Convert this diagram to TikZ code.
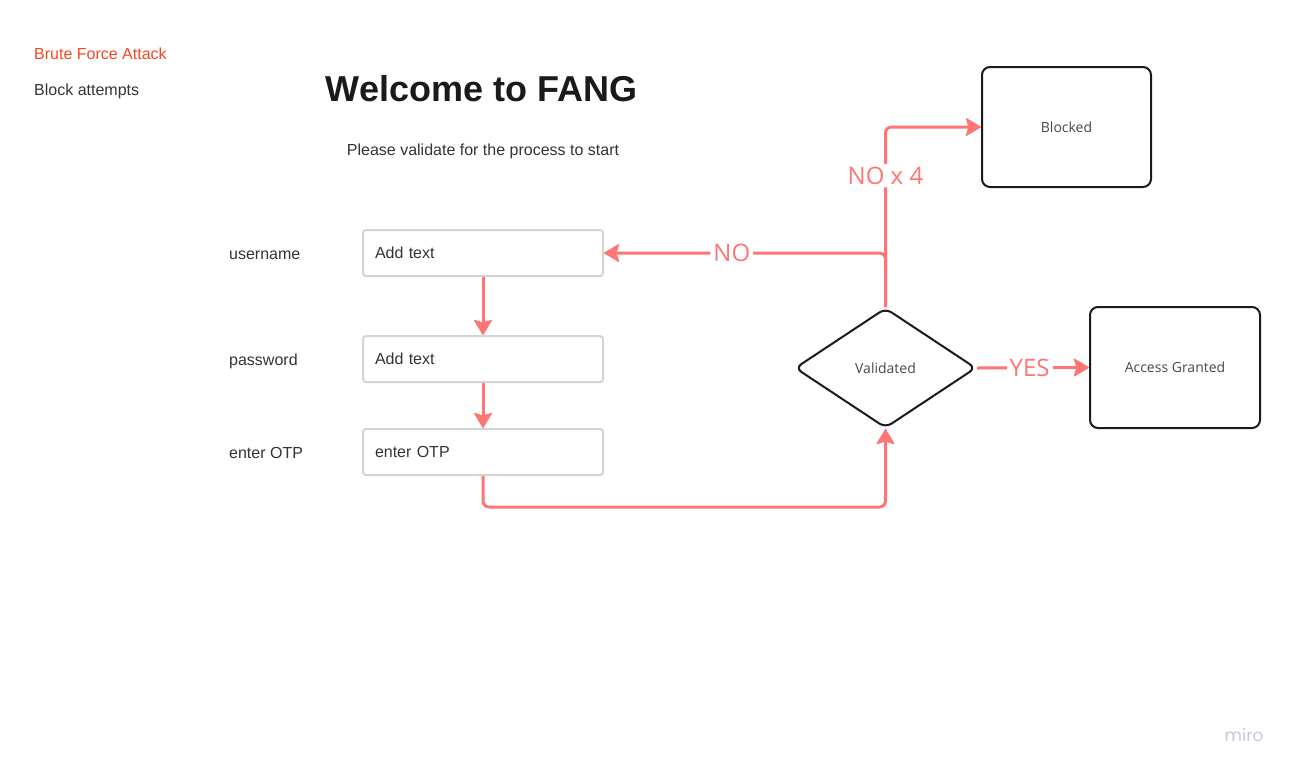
\documentclass[tikz,border=0pt]{standalone}
\usepackage{fontspec}
\setmainfont{Liberation Sans}
\newfontfamily\os{Open Sans}
\newfontfamily\pop{Poppins}
\usetikzlibrary{shapes.geometric,arrows.meta}
\definecolor{conred}{HTML}{FF7575}
\definecolor{orangered}{HTML}{F24726}
\definecolor{txt}{HTML}{333333}
\definecolor{boxgray}{HTML}{D4D4D4}
\definecolor{ink}{HTML}{1A1A1A}
\definecolor{miroc}{HTML}{C5C8DC}
\tikzset{
  x=1pt, y=-1pt,
  lbl/.style={font=\fontsize{16}{19}\selectfont, text=txt, anchor=base west, inner sep=0},
  inbox/.style={draw=boxgray, line width=2pt, rounded corners=3pt, minimum width=240pt, minimum height=46pt,
     inner xsep=12pt, text width=216pt, align=left, font=\fontsize{16}{19}\selectfont, text=txt},
  endbox/.style={draw=ink, line width=2pt, rounded corners=8pt, minimum width=169pt, minimum height=120pt,
     font=\os\fontsize{14}{17}\selectfont, text=txt!90!white},
  conn/.style={draw=conred, line width=3pt, -{Stealth[length=16pt,width=19pt,inset=3pt,line width=1pt,round]}},
  clabel/.style={fill=white, font=\os\fontsize{24}{28}\selectfont, text=conred, inner sep=3pt}
}
\begin{document}
\begin{tikzpicture}
\useasboundingbox (0,0) rectangle (1295,772);
% left notes
\node[lbl, text=orangered] (bf) at (34,59) {Brute Force Attack};
\node[lbl] (ba) at (34,95) {Block attempts};
% title
\node[font=\fontsize{36}{40}\selectfont\bfseries, text=ink, anchor=base, inner sep=0] (title) at (481.5,101) {Welcome to FANG};
\node[font=\fontsize{16}{19}\selectfont, text=txt, anchor=base, inner sep=0] (sub) at (483,155) {Please validate for the process to start};
% field labels
\node[lbl] (lu) at (229,259) {username};
\node[lbl] (lp) at (229,365) {password};
\node[lbl] (lo) at (229,458) {enter OTP};
% input boxes
\node[inbox] (u) at (483,253) {Add text};
\node[inbox] (p) at (483,359) {Add text};
\node[inbox] (o) at (483,452) {enter OTP};
% decision
\node[diamond, draw=ink, line width=2pt, rounded corners=7pt, minimum width=181pt, minimum height=120pt, aspect=1.5, inner sep=0,
  font=\os\fontsize{14}{17}\selectfont, text=txt!90!white] (v) at (885.5,368) {Validated};
% end boxes
\node[endbox] (b) at (1066.5,127) {Blocked};
\node[endbox, minimum width=170pt, minimum height=121pt] (a) at (1175,367.5) {Access Granted};
% connectors
\draw[conn] (u.south) -- (p.north);
\draw[conn] (p.south) -- (o.north);
\draw[conn, rounded corners=6pt] (o.south) -- ++(0,31) -| (v.south);
\draw[conn, rounded corners=6pt] (v.north) |- (u.east) node[clabel, pos=0.773] (no) {NO};
\draw[conn, rounded corners=6pt] (v.north) |- (b.west) node[clabel, pos=0.365] (no4) {NO x 4};
\draw[conn] (v.east) -- (a.west) node[clabel, pos=0.47] (yes) {YES};
% logo
\node[font=\pop\fontsize{17}{20}\selectfont, text=miroc, inner sep=0] (miro) at (1244,735) {miro};
\end{tikzpicture}
\end{document}
